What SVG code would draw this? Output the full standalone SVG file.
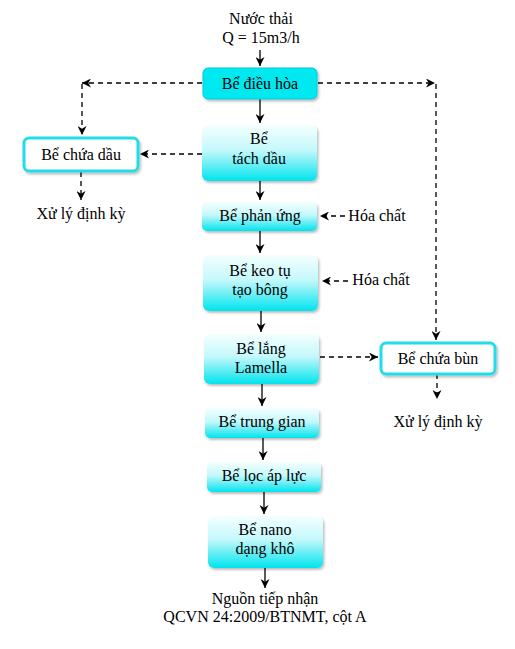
<svg xmlns="http://www.w3.org/2000/svg" width="515" height="649" viewBox="0 0 515 649">
<style>
text{font-family:'Liberation Serif','DejaVu Serif',serif;font-size:16px;fill:#000;text-anchor:middle}
.solid{stroke:#000;stroke-width:1.3;fill:none}
.dash{stroke:#000;stroke-width:1.3;fill:none;stroke-dasharray:5,4}
.grad{fill:url(#g);filter:url(#sh)}
.cyan{fill:#00e8f0;stroke:#00c8d8;stroke-width:1;filter:url(#sh)}
.white{fill:#fff;stroke:#22dce8;stroke-width:3;filter:url(#sh)}
</style>
<defs>
<linearGradient id="g" x1="0" y1="0" x2="0" y2="1">
<stop offset="0" stop-color="#f4ffff"/>
<stop offset="0.45" stop-color="#c4f8fb"/>
<stop offset="1" stop-color="#00e4ee"/>
</linearGradient>
<filter id="sh" x="-10%" y="-10%" width="130%" height="140%">
<feDropShadow dx="1.5" dy="2" stdDeviation="1.2" flood-color="#000" flood-opacity="0.25"/>
</filter>
<marker id="a" viewBox="0 0 10 10" refX="10" refY="5" markerWidth="9" markerHeight="9" orient="auto" markerUnits="userSpaceOnUse">
<path d="M0,0 L10,5 L0,10 L3,5 z" fill="#000"/>
</marker>
</defs>

<g id="connectors">
<path class="solid" d="M260,50 V66" marker-end="url(#a)"/>
<path class="solid" d="M260,99 V123" marker-end="url(#a)"/>
<path class="solid" d="M260,181 V200" marker-end="url(#a)"/>
<path class="solid" d="M260,231 V253" marker-end="url(#a)"/>
<path class="solid" d="M261,311 V332" marker-end="url(#a)"/>
<path class="solid" d="M262,384 V406" marker-end="url(#a)"/>
<path class="solid" d="M263,438 V460" marker-end="url(#a)"/>
<path class="solid" d="M264,492 V514" marker-end="url(#a)"/>
<path class="solid" d="M265,568 V588" marker-end="url(#a)"/>
<path class="dash" d="M202,83 H82" marker-end="url(#a)"/>
<path class="dash" d="M82,84 V135" marker-end="url(#a)"/>
<path class="dash" d="M318,83 H435" marker-end="url(#a)"/>
<path class="dash" d="M436,84 V340" marker-end="url(#a)"/>
<path class="dash" d="M202,154 H140" marker-end="url(#a)"/>
<path class="dash" d="M81,172 V200" marker-end="url(#a)"/>
<path class="dash" d="M345,216 H320" marker-end="url(#a)"/>
<path class="dash" d="M348,281 H322" marker-end="url(#a)"/>
<path class="dash" d="M320,357 H378" marker-end="url(#a)"/>
<path class="dash" d="M437,374 V399" marker-end="url(#a)"/>
</g>

<g id="input"><text x="261" y="24">Nước thải</text><text x="261" y="43">Q = 15m3/h</text></g>

<g id="dieuhoa"><rect class="cyan" x="203" y="68" width="114" height="31" rx="5"/><text x="260" y="89">Bể điều hòa</text></g>
<g id="tachdau"><rect class="grad" x="202" y="125" width="115" height="56" rx="6"/><text x="259" y="144">Bể</text><text x="259" y="164">tách dầu</text></g>
<g id="chuadau"><rect class="white" x="24" y="138" width="114" height="33" rx="5"/><text x="81" y="160">Bể chứa dầu</text></g>
<g id="xuly1"><text x="81" y="219">Xử lý định kỳ</text></g>
<g id="phanung"><rect class="grad" x="202" y="202" width="115" height="29" rx="5"/><text x="260" y="221">Bể phản ứng</text></g>
<g id="hoachat1"><text x="377" y="221">Hóa chất</text></g>
<g id="keotu"><rect class="grad" x="203" y="255" width="115" height="56" rx="6"/><text x="260" y="276">Bể keo tụ</text><text x="260" y="295">tạo bông</text></g>
<g id="hoachat2"><text x="381" y="285">Hóa chất</text></g>
<g id="lamella"><rect class="grad" x="204" y="334" width="115" height="50" rx="6"/><text x="261" y="354">Bể lắng</text><text x="261" y="373">Lamella</text></g>
<g id="chuabun"><rect class="white" x="381" y="343" width="114" height="31" rx="5"/><text x="438" y="364">Bể chứa bùn</text></g>
<g id="xuly2"><text x="438" y="427">Xử lý định kỳ</text></g>
<g id="trunggian"><rect class="grad" x="205" y="408" width="114" height="30" rx="5"/><text x="262" y="427">Bể trung gian</text></g>
<g id="locapluc"><rect class="grad" x="207" y="462" width="114" height="30" rx="5"/><text x="264" y="481">Bể lọc áp lực</text></g>
<g id="nano"><rect class="grad" x="208" y="516" width="115" height="52" rx="6"/><text x="265" y="535">Bể nano</text><text x="265" y="554">dạng khô</text></g>
<g id="output"><text x="265" y="604">Nguồn tiếp nhận</text><text x="265" y="622">QCVN 24:2009/BTNMT, cột A</text></g>
</svg>
